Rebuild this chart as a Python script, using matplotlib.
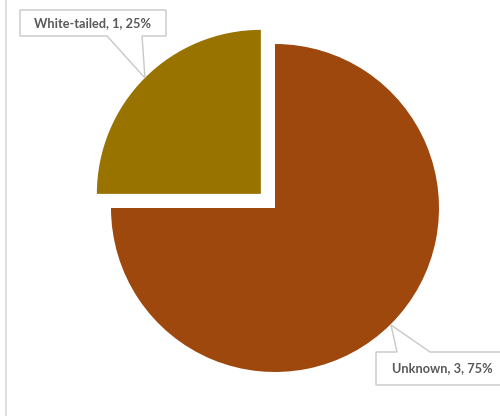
import matplotlib
matplotlib.use("Agg")
from matplotlib import pyplot as plt
from matplotlib.patches import Polygon

categories = ["Unknown", "White-tailed"]
counts = [3, 1]
colors = ["#9E480E", "#997300"]
explode = [0, 20]  # pie() offsets in data units here

W, H = 500, 416


def py(y):
    # image pixel row -> data y
    return H - y


fig = plt.figure(figsize=(5, 4.16), dpi=100)
ax = fig.add_axes([0, 0, 1, 1])

ax.pie(counts, colors=colors, explode=explode, startangle=90, counterclock=False,
       center=(275, py(208)), radius=164, frame=True,
       wedgeprops=dict(linewidth=0))
ax.set_xlim(0, W)
ax.set_ylim(0, H)
ax.set_aspect("auto")
ax.axis("off")

# thin chart-area border on the left
ax.plot([5.5, 5.5], [0, H], color="#d9d9d9", lw=1.2)

total = sum(counts)
labels = [f"{c}, {n}, {round(100 * n / total)}%" for c, n in zip(categories, counts)]

# callout shapes (box + pointer), pixel coordinates
callouts = {
    "White-tailed": [(20, 10), (166, 10), (166, 36), (142, 36), (145, 78), (107, 36), (20, 36)],
    "Unknown": [(376, 352), (397, 352), (391, 325), (430, 352), (512, 352), (512, 385), (376, 385)],
}
text_pos = {"White-tailed": (93, 23), "Unknown": (442, 368.5)}

for cat, lab in zip(categories, labels):
    pts = [(x, py(y)) for x, y in callouts[cat]]
    ax.add_patch(Polygon(pts, closed=True, facecolor="white", edgecolor="#c8c8c8",
                         lw=1.0, zorder=3, clip_on=True))
    tx, ty = text_pos[cat]
    ax.text(tx, py(ty), lab, ha="center", va="center", fontsize=9.2,
            fontweight="bold", family="Lato", color="#595959", zorder=4)

fig.savefig("out.png", dpi=100)
